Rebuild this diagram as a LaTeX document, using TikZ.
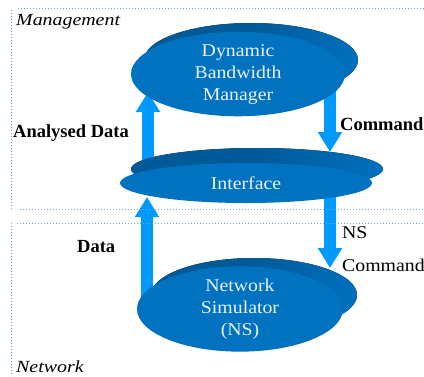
\documentclass[tikz,border=0pt]{standalone}
\usepackage{fontspec}
\usepackage{graphicx}
\setmainfont{Liberation Serif}
\usetikzlibrary{shapes.geometric,arrows.meta}
\pgfdeclarelayer{bg}
\pgfsetlayers{bg,main}
\definecolor{frontblue}{RGB}{0,114,192}
\definecolor{backblue}{RGB}{0,90,152}
\definecolor{rimlight}{RGB}{0,112,190}
\definecolor{arrowblue}{RGB}{0,153,255}
\definecolor{dotblue}{RGB}{90,175,255}
\definecolor{paletext}{RGB}{235,242,250}
\newcommand{\wx}[1]{\scalebox{1.1}[1]{#1}}
\newcommand{\wi}[1]{\scalebox{1.17}[1]{#1}}
\tikzset{
  disc/.style={ellipse, fill=frontblue, draw=none, inner sep=0pt,
    align=center, text=paletext, font=\fontsize{18}{22}\selectfont},
  backdisc/.style={left color=backblue, right color=rimlight, middle color=backblue, draw=none},
  bigarrow/.style={draw=arrowblue, line width=11.5pt,
    -{Triangle[length=20pt 0 0, width=23pt 0 0]}},
  regionline/.style={draw=dotblue, line width=1pt, dotted},
  boldlabel/.style={font=\bfseries\fontsize{18.5}{22}\selectfont, inner sep=0pt},
  plainlabel/.style={font=\fontsize{18}{22}\selectfont, inner sep=0pt},
  regionlabel/.style={font=\itshape\fontsize{17}{20}\selectfont, inner sep=0pt}
}
\begin{document}
\begin{tikzpicture}[x=1pt,y=-1pt]
\useasboundingbox (0,0) rectangle (424,376);

% front faces with text
\node[disc, minimum width=214pt, minimum height=68pt] (dbm) at (238,74)
  {\wx{Dynamic}\\\wx{Bandwidth}\\\wx{Manager}};
\node[disc, minimum width=252pt, minimum height=40pt] (iface) at (246,183)
  {\wx{Interface}};
\node[disc, minimum width=206pt, minimum height=68pt] (ns) at (240,309)
  {\wx{Network}\\\wx{Simulator}\\\wx{(NS)}};

% arrow tips
\coordinate (adTip) at (148,92);
\coordinate (cmdTip) at (330,152);
\coordinate (dTip) at (147,197);
\coordinate (nsTip) at (330,268);

\begin{pgfonlayer}{bg}
  \fill[white] (0,0) rectangle (424,376);
  \draw[bigarrow] (adTip |- iface.center) -- (adTip);
  \draw[bigarrow] (cmdTip |- dbm.center) -- (cmdTip);
  \draw[bigarrow] (dTip |- ns.center) -- (dTip);
  \draw[bigarrow] (nsTip |- iface.center) -- (nsTip);
  % back faces (3D rim)
  \fill[backdisc] ([shift={(13,-14)}]dbm.center) ellipse [x radius=107pt, y radius=37pt];
  \fill[backdisc] ([shift={(11,-14)}]iface.center) ellipse [x radius=126pt, y radius=21pt];
  \fill[backdisc] ([shift={(14,-14)}]ns.center) ellipse [x radius=103pt, y radius=37pt];
\end{pgfonlayer}

% region boundaries
\coordinate (tl) at (18,8);
\coordinate (tr) at (424,8);
\draw[regionline] (tl) -- (tr);
\coordinate (lvA) at (11,10);
\coordinate (lvB) at (11,210);
\draw[regionline] (lvA) -- (lvB);
\coordinate (mA) at (20,209);
\coordinate (mB) at (424,209);
\draw[regionline] (mA) -- (mB);
\coordinate (nA) at (17,223);
\coordinate (nB) at (424,223);
\draw[regionline] (nA) -- (nB);
\coordinate (lwA) at (11,223);
\coordinate (lwB) at (11,376);
\draw[regionline] (lwA) -- (lwB);

% labels
\node[regionlabel, anchor=base west] (mgmt) at (16,25) {\wi{Management}};
\node[regionlabel, anchor=base west] (netw) at (16,372) {\wi{Network}};
\node[boldlabel, anchor=base west] (adlbl) at (13,137) {Analysed Data};
\node[boldlabel, anchor=base west] (cmdlbl) at (340,130) {Command};
\node[boldlabel, anchor=base west] (dlbl) at (77,252) {Data};
\node[plainlabel, anchor=base west] (nslbl) at (342,238) {\wx{NS}};
\node[plainlabel, anchor=base west] (ncmdlbl) at (342,271) {\wx{Command}};
\end{tikzpicture}
\end{document}
